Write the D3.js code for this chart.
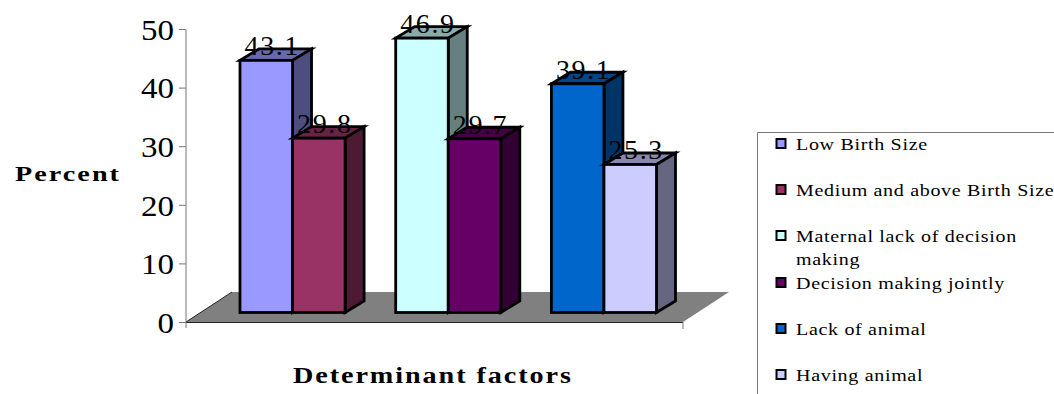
<!DOCTYPE html>
<html>
<head>
<meta charset="utf-8">
<script src="https://cdn.jsdelivr.net/npm/d3@7"></script>
<style>
html,body{margin:0;padding:0;background:#fff;overflow:hidden}
svg{display:block}
text{font-family:"Liberation Serif",serif;fill:#000}
</style>
</head>
<body>
<script>
// Percent by determinant factor, two bars per group
const groups = ["Birth size", "Decision making", "Animal ownership"];
const groupSeries = [
  ["Low Birth Size", "Medium and above Birth Size"],
  ["Maternal lack of decision making", "Decision making jointly"],
  ["Lack of animal", "Having animal"]
];
const groupValues = [[43.1, 29.8], [46.9, 29.7], [39.1, 25.3]];
const barColors = [["#9999ff", "#993366"], ["#ccffff", "#660066"], ["#0066cc", "#ccccff"]];
const legendLines = [
  ["Low Birth Size"],
  ["Medium and above Birth Size"],
  ["Maternal lack of decision", "making"],
  ["Decision making jointly"],
  ["Lack of animal"],
  ["Having animal"]
];
const axisTicks = [0, 10, 20, 30, 40, 50];

const W = 1054, H = 394;
const depthX = 19, depthY = 11.5;

const svg = d3.select("body").append("svg").attr("width", W).attr("height", H);

// Axis wall runs from the front floor edge; bars stand further back on the floor
const yAxisScale = d3.scaleLinear().domain([0, 50]).range([322, 29]);
const yBar = d3.scaleLinear().domain([0, 50]).range([312.5, 20]);
const xGroup = d3.scaleBand().domain(groups).range([240, 656.5]).paddingInner(0.325).paddingOuter(0);
const xInner = d3.scaleBand().domain([0, 1]).range([0, xGroup.bandwidth()]);

// Floor
const floor = {left: 186, right: 683, front: 322, back: 292, shift: 46};
svg.append("path")
  .attr("d", d3.line()([
    [floor.left, floor.front], [floor.right, floor.front],
    [floor.right + floor.shift, floor.back], [floor.left + floor.shift, floor.back]
  ]) + "Z")
  .attr("fill", "#808080");
svg.append("line")
  .attr("x1", floor.left).attr("x2", floor.right)
  .attr("y1", floor.front + 0.5).attr("y2", floor.front + 0.5)
  .attr("stroke", "#222").attr("stroke-width", 1.2);
svg.append("line")
  .attr("x1", floor.left).attr("x2", floor.left + floor.shift)
  .attr("y1", floor.front).attr("y2", floor.back)
  .attr("stroke", "#222").attr("stroke-width", 1);
svg.append("line")
  .attr("x1", floor.right).attr("x2", floor.right)
  .attr("y1", floor.front).attr("y2", floor.front + 7)
  .attr("stroke", "#777").attr("stroke-width", 1);

// Value axis, labels widened horizontally about the tick origin
const axis = d3.axisLeft(yAxisScale).tickValues(axisTicks).tickSize(7).tickPadding(4).tickFormat(d3.format("d"));
const axisG = svg.append("g").attr("transform", "translate(186,0)").call(axis);
axisG.select(".domain").attr("stroke", "#777").attr("d", "M-7,29.5H0V328");
axisG.selectAll(".tick line").attr("stroke", "#777");
axisG.selectAll(".tick text")
  .attr("font-family", "Liberation Serif").attr("font-size", 30).attr("dy", "0.34em")
  .attr("transform", "scale(1.1,1)").style("fill", "#000");

// Shade helper for the side and top faces
const shade = (c, k) => {
  const r = d3.rgb(c);
  return d3.rgb(r.r * k, r.g * k, r.b * k).formatHex();
};

// 3D bars: top and side first, then the front
const line = d3.line();
const barData = groups.flatMap((g, gi) => groupValues[gi].map((v, si) => ({
  g, si, v, name: groupSeries[gi][si], color: barColors[gi][si]
})));
const bars = svg.append("g").selectAll("g").data(barData).join("g")
  .attr("stroke", "#000").attr("stroke-width", 2.8).attr("stroke-linejoin", "miter");
const xL = d => xGroup(d.g) + xInner(d.si);
const xR = d => xL(d) + xInner.bandwidth();
bars.append("path")
  .attr("fill", d => shade(d.color, 0.67))
  .attr("d", d => line([[xL(d), yBar(d.v)], [xR(d), yBar(d.v)], [xR(d) + depthX, yBar(d.v) - depthY], [xL(d) + depthX, yBar(d.v) - depthY]]) + "Z");
bars.append("path")
  .attr("fill", d => shade(d.color, 0.5))
  .attr("d", d => line([[xR(d), yBar(d.v)], [xR(d) + depthX, yBar(d.v) - depthY], [xR(d) + depthX, yBar(0) - depthY], [xR(d), yBar(0)]]) + "Z");
bars.append("rect")
  .attr("x", xL).attr("y", d => yBar(d.v))
  .attr("width", xInner.bandwidth()).attr("height", d => yBar(0) - yBar(d.v))
  .attr("fill", d => d.color);

// Value labels sit over the top faces
svg.append("g").selectAll("text").data(barData).join("text")
  .attr("x", d => xL(d) + xInner.bandwidth() / 2 + 6)
  .attr("y", d => yBar(d.v) - 5)
  .attr("text-anchor", "middle")
  .attr("font-size", 28)
  .attr("letter-spacing", 1.6)
  .text(d => d.v.toFixed(1));

// Axis titles, widened horizontally
svg.append("text").attr("transform", "translate(15,181) scale(1.28,1)").attr("font-size", 22).attr("font-weight", "bold")
  .attr("letter-spacing", 1.6).text("Percent");
svg.append("text").attr("transform", "translate(293,383) scale(1.2,1)").attr("font-size", 23.5).attr("font-weight", "bold")
  .attr("letter-spacing", 1.6).text("Determinant factors");

// Legend
svg.append("path").attr("d", "M757.5,394V132.5H1054").attr("fill", "none").attr("stroke", "#777").attr("stroke-width", 1);
const legendBase = [150, 196, 242, 289, 335, 381];
const legend = svg.append("g").selectAll("g").data(barData).join("g")
  .attr("transform", (d, i) => `translate(0,${legendBase[i]})`);
legend.append("rect").attr("x", 776.5).attr("y", -11).attr("width", 9).attr("height", 9)
  .attr("fill", d => d.color).attr("stroke", "#000").attr("stroke-width", 2);
legend.each(function(d, i) {
  d3.select(this).selectAll("text").data(legendLines[i]).join("text")
    .attr("transform", (t, j) => `translate(796,${j * 23}) scale(1.215,1)`)
    .attr("font-size", 16.5).attr("letter-spacing", 0.55)
    .text(t => t);
});
</script>
</body>
</html>
